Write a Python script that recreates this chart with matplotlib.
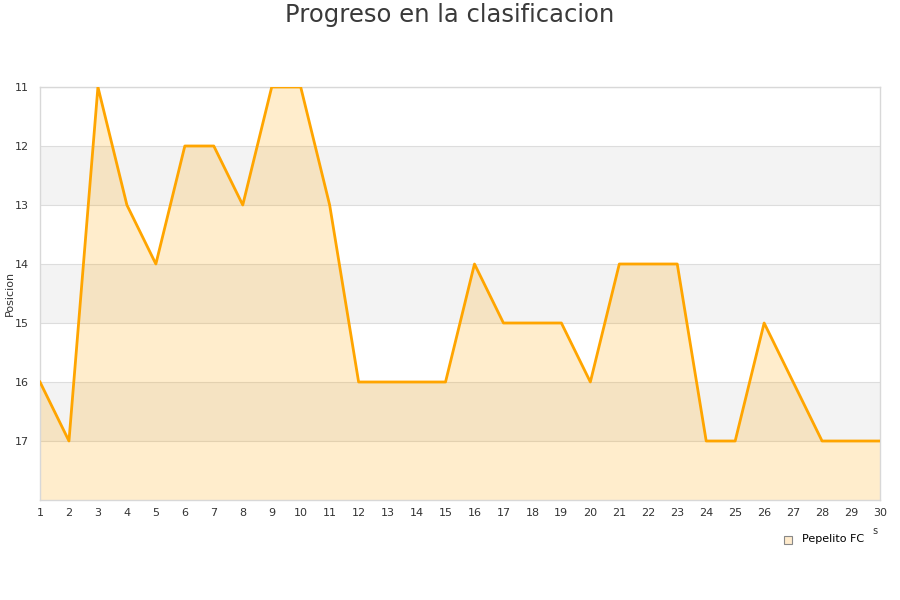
import matplotlib
matplotlib.use("Agg")
import matplotlib.pyplot as plt

jornadas = list(range(1, 31))
posiciones = [16, 17, 11, 13, 14, 12, 12, 13, 11, 11, 13, 16, 16, 16, 16,
              14, 15, 15, 15, 16, 14, 14, 14, 17, 17, 15, 16, 17, 17, 17]
equipo = "Pepelito FC"
titulo = "Progreso en la clasificacion"
y_ticks = [11, 12, 13, 14, 15, 16, 17]

fig = plt.figure(figsize=(9, 6), dpi=100)
ax = fig.add_axes([40 / 900, 1 - 500 / 600, 840 / 900, 413 / 600])

ax.set_xlim(1, 30)
ax.set_ylim(18, 11)

# alternating horizontal bands
for lo in (12, 14, 16):
    ax.axhspan(lo, lo + 1, color="#f3f3f3", zorder=0, lw=0)
for y in y_ticks:
    ax.axhline(y, color="#dddddd", lw=0.8, zorder=1)

ax.fill_between(jornadas, posiciones, 18, color="#ffa500", alpha=0.2, lw=0, zorder=2)
ax.plot(jornadas, posiciones, color="#ffa500", lw=2.0, zorder=3, label=equipo)

ax.set_xticks(jornadas)
ax.set_yticks(y_ticks)
ax.tick_params(axis="both", length=0, labelsize=8, colors="#333333", pad=6)
ax.tick_params(axis="y", pad=8)
for side in ("left", "right", "top", "bottom"):
    ax.spines[side].set_color("#d8d8d8")
    ax.spines[side].set_linewidth(1)

ax.set_ylabel("Posicion", fontsize=8, color="#333333")
ax.yaxis.set_label_coords(-0.03, 0.5)

fig.text(0.5, 1 - 15 / 600, titulo, ha="center", va="center", fontsize=17.5, color="#3a3a3a")
fig.text(875 / 900, 1 - 531 / 600, "s", ha="center", va="center", fontsize=7, color="#333333")

# legend entry
fig.patches.append(plt.Rectangle((784 / 900, 1 - 544 / 600), 8 / 900, 8 / 600,
                                 transform=fig.transFigure, facecolor="#ffebcc",
                                 edgecolor="#888888", lw=0.8))
fig.text(802 / 900, 1 - 539 / 600, equipo, ha="left", va="center", fontsize=8, color="#000000")

fig.savefig("out.png", dpi=100)
